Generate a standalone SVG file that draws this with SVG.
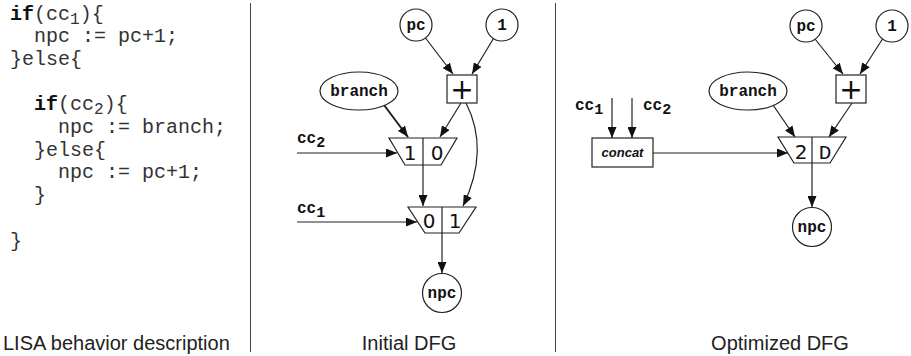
<svg xmlns="http://www.w3.org/2000/svg" width="911" height="356" viewBox="0 0 911 356">
<style>
.code{font-family:"Liberation Mono","Courier New",monospace;font-size:20px;fill:#333}
.kw{font-weight:bold;fill:#111}
.sub{font-size:16px}
.lbl{font-family:"Liberation Mono","Courier New",monospace;font-size:16px;font-weight:bold;fill:#111}
.lsub{font-size:15px}
.dig{font-family:"DejaVu Sans","Liberation Sans",sans-serif;font-size:20px;fill:#111;text-anchor:middle}
.cap{font-family:"Liberation Sans",Arial,sans-serif;font-size:20px;fill:#222}
.shape{fill:#fff;stroke:#222;stroke-width:1.2}
.edge{fill:none;stroke:#222;stroke-width:1.2}
.thick{stroke-width:2}
.div{stroke:#444;stroke-width:1}
.mid{text-anchor:middle}
</style>
<defs>
<marker id="ah" markerUnits="userSpaceOnUse" markerWidth="11" markerHeight="9" refX="11" refY="4.5" orient="auto">
<path d="M0,0 L11,4.5 L0,9 z" fill="#111"/>
</marker>
</defs>

<g id="code">
<text class="code" x="10" y="20"><tspan class="kw">if</tspan>(cc<tspan class="sub" dy="4">1</tspan><tspan dy="-4">){</tspan></text>
<text class="code" x="34" y="42">npc := pc+1;</text>
<text class="code" x="10" y="65">}else{</text>
<text class="code" x="34" y="110"><tspan class="kw">if</tspan>(cc<tspan class="sub" dy="4">2</tspan><tspan dy="-4">){</tspan></text>
<text class="code" x="58" y="133">npc := branch;</text>
<text class="code" x="34" y="156">}else{</text>
<text class="code" x="58" y="178">npc := pc+1;</text>
<text class="code" x="34" y="201">}</text>
<text class="code" x="10" y="247">}</text>
</g>

<g id="dividers">
<line class="div" x1="250.5" y1="3" x2="250.5" y2="352"/>
<line class="div" x1="555.5" y1="3" x2="555.5" y2="352"/>
</g>

<g id="captions">
<text id="cap-lisa" class="cap" x="3" y="350">LISA behavior description</text>
<text id="cap-initial" class="cap mid" x="409" y="350">Initial DFG</text>
<text id="cap-opt" class="cap mid" x="780" y="350">Optimized DFG</text>
</g>

<!-- Initial DFG -->
<g id="connectors-initial">
<line class="edge" x1="425.5" y1="38" x2="453" y2="74" marker-end="url(#ah)"/>
<line class="edge" x1="493.5" y1="38.5" x2="472" y2="74" marker-end="url(#ah)"/>
<line class="edge thick" x1="384" y1="105" x2="408" y2="137" marker-end="url(#ah)"/>
<line class="edge" x1="461" y1="103" x2="440" y2="137" marker-end="url(#ah)"/>
<path class="edge" d="M466,103 Q490,150 463,206" marker-end="url(#ah)"/>
<line class="edge" x1="297" y1="153" x2="397" y2="153" marker-end="url(#ah)"/>
<line class="edge" x1="423" y1="165" x2="423" y2="206" marker-end="url(#ah)"/>
<line class="edge" x1="297" y1="222" x2="417" y2="222" marker-end="url(#ah)"/>
<line class="edge" x1="442" y1="233" x2="442" y2="273" marker-end="url(#ah)"/>
<text class="lbl" x="297" y="143">cc<tspan class="lsub" dy="4">2</tspan></text>
<text class="lbl" x="297" y="213">cc<tspan class="lsub" dy="4">1</tspan></text>
</g>
<g id="i-pc"><circle class="shape" cx="416" cy="25" r="16"/><text class="lbl mid" x="416" y="30">pc</text></g>
<g id="i-one"><circle class="shape" cx="502" cy="25" r="16"/><text class="lbl mid" x="502" y="30">1</text></g>
<g id="i-plus"><rect class="shape" x="447" y="75" width="30" height="28"/><text class="dig" style="font-size:28px" x="462" y="99">+</text></g>
<g id="i-branch"><ellipse class="shape" cx="359" cy="91" rx="39" ry="19"/><text class="lbl mid" x="359" y="96">branch</text></g>
<g id="i-mux1"><polygon class="shape" points="389,138 457,138 441,165 405,165"/><line class="edge" x1="423" y1="138" x2="423" y2="165"/><text class="dig" x="410" y="160">1</text><text class="dig" x="437" y="160">0</text></g>
<g id="i-mux2"><polygon class="shape" points="408,207 476,207 459,233 425,233"/><line class="edge" x1="442" y1="207" x2="442" y2="233"/><text class="dig" x="429" y="228">0</text><text class="dig" x="455" y="228">1</text></g>
<g id="i-npc"><circle class="shape" cx="442" cy="293" r="19.5"/><text class="lbl mid" x="442" y="298">npc</text></g>

<!-- Optimized DFG -->
<g id="connectors-opt">
<line class="edge" x1="815" y1="39" x2="843" y2="74" marker-end="url(#ah)"/>
<line class="edge" x1="882.5" y1="39" x2="860" y2="74" marker-end="url(#ah)"/>
<line class="edge" x1="773" y1="105" x2="795" y2="137" marker-end="url(#ah)"/>
<line class="edge" x1="852" y1="103" x2="829" y2="137" marker-end="url(#ah)"/>
<line class="edge" x1="612" y1="98" x2="612" y2="138" marker-end="url(#ah)"/>
<line class="edge" x1="632" y1="98" x2="632" y2="138" marker-end="url(#ah)"/>
<line class="edge" x1="653" y1="153" x2="788" y2="153" marker-end="url(#ah)"/>
<line class="edge" x1="812" y1="163" x2="812" y2="207" marker-end="url(#ah)"/>
<text class="lbl" x="575" y="110">cc<tspan class="lsub" dy="4">1</tspan></text>
<text class="lbl" x="643" y="110">cc<tspan class="lsub" dy="4">2</tspan></text>
</g>
<g id="o-pc"><circle class="shape" cx="806" cy="26" r="16"/><text class="lbl mid" x="806" y="31">pc</text></g>
<g id="o-one"><circle class="shape" cx="892" cy="26" r="16"/><text class="lbl mid" x="892" y="31">1</text></g>
<g id="o-plus"><rect class="shape" x="836" y="75" width="30" height="28"/><text class="dig" style="font-size:28px" x="851" y="99">+</text></g>
<g id="o-branch"><ellipse class="shape" cx="748" cy="91" rx="39" ry="19"/><text class="lbl mid" x="748" y="96">branch</text></g>
<g id="o-concat"><rect class="shape" x="592" y="138" width="61" height="29"/><text class="mid" style="font-family:'Liberation Sans',Arial,sans-serif;font-size:13px;font-weight:bold;font-style:italic;fill:#111" x="622.5" y="157">concat</text></g>
<g id="o-mux"><polygon class="shape" points="778,137 846,137 830,163 794,163"/><line class="edge" x1="812" y1="137" x2="812" y2="163"/><text class="dig" x="801" y="159">2</text><text class="dig" style="font-family:'Liberation Mono',monospace;font-size:21px" x="825" y="159">D</text></g>
<g id="o-npc"><circle class="shape" cx="812" cy="227" r="19.5"/><text class="lbl mid" x="812" y="232">npc</text></g>
</svg>
